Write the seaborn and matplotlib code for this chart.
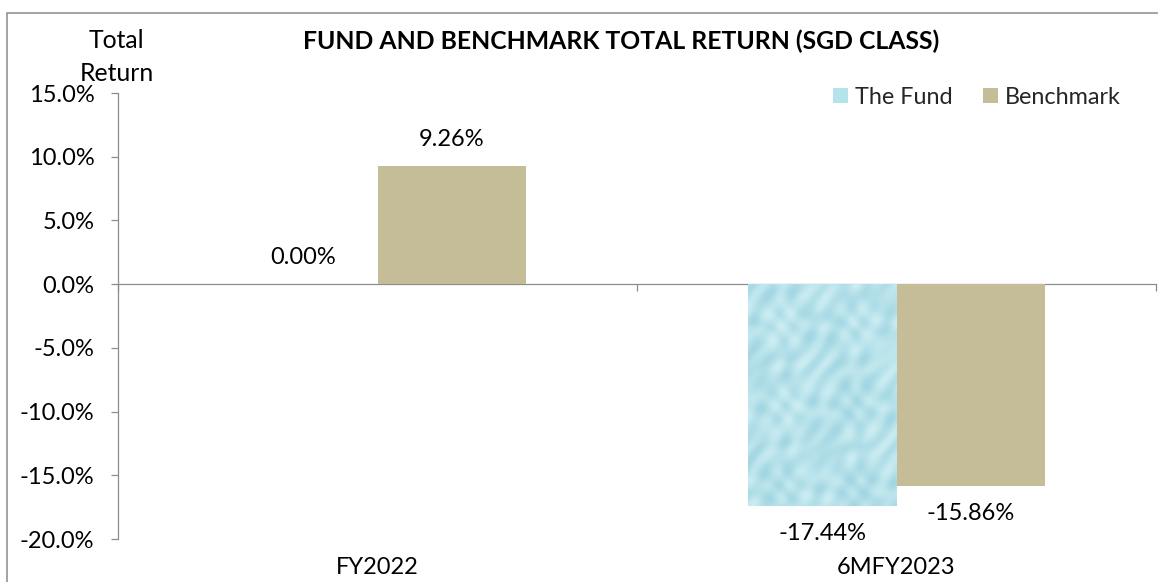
import numpy as np
import pandas as pd
import matplotlib
matplotlib.use("Agg")
import matplotlib.pyplot as plt
from matplotlib.patches import Rectangle
import seaborn as sns

# ---- data ----
periods = ["FY2022", "6MFY2023"]
series_names = ["The Fund", "Benchmark"]
fund_returns = [0.00, -17.44]
benchmark_returns = [9.26, -15.86]
y_ticks = [15, 10, 5, 0, -5, -10, -15, -20]
title = "FUND AND BENCHMARK TOTAL RETURN (SGD CLASS)"
y_title = "Total\nReturn"

df = pd.DataFrame({
    "Period": periods * 2,
    "Series": [series_names[0]] * len(periods) + [series_names[1]] * len(periods),
    "Return": fund_returns + benchmark_returns,
})

sns.set_theme(style="white")
plt.rcParams["font.family"] = ["Lato", "DejaVu Sans"]

W, H = 1158, 582
FS = 17.0
FS_T = 17.8
FS_L = 16.8
GRAY = "#8C8C8C"
fund_color = "#B4E3EC"
bench_color = "#C4BD97"

fig = plt.figure(figsize=(W / 100, H / 100), dpi=100)
ax = fig.add_axes([118 / W, 1 - 539 / H, 1038 / W, 446 / H])

sns.barplot(data=df, x="Period", y="Return", hue="Series", order=periods,
            hue_order=series_names,
            palette={series_names[0]: fund_color, series_names[1]: bench_color},
            width=0.574, saturation=1, errorbar=None, linewidth=0, ax=ax, legend=True)

ax.set_xlim(-0.5, 1.5)
ax.set_ylim(-20, 15)

# water-like texture on the fund bars
for bar in ax.containers[0]:
    h = bar.get_height()
    if h == 0:
        continue
    x0, x1 = bar.get_x(), bar.get_x() + bar.get_width()
    y0, y1 = sorted([bar.get_y(), bar.get_y() + h])
    ny, nx = 300, 120
    yy, xx = np.mgrid[0:1:ny * 1j, 0:1:nx * 1j]
    t = (np.sin(xx * 23 + np.sin(yy * 17) * 2.2) * np.cos(yy * 31 + np.sin(xx * 13) * 1.7)
         + 0.5 * np.sin((xx + yy) * 41))
    t = (t - t.min()) / (t.max() - t.min())
    light = np.array([0.80, 0.93, 0.95])
    dark = np.array([0.56, 0.80, 0.86])
    arr = light[None, None, :] * (1 - t[..., None] * 0.7) + dark[None, None, :] * (t[..., None] * 0.7)
    im = ax.imshow(arr, extent=(x0, x1, y0, y1), aspect="auto", origin="upper",
                   interpolation="bilinear", zorder=bar.get_zorder() + 0.1)
    im.set_clip_path(bar)

ax.set_xlim(-0.5, 1.5)
ax.set_ylim(-20, 15)

# axes styling
for s in ["top", "right", "bottom"]:
    ax.spines[s].set_visible(False)
ax.spines["left"].set_color(GRAY)
ax.spines["left"].set_linewidth(0.9)

ax.set_yticks(y_ticks)
ax.set_yticklabels([f"{v:.1f}%" for v in y_ticks])
ax.tick_params(axis="y", left=True, direction="out", length=5, width=0.9,
               color=GRAY, pad=12, labelsize=FS, labelcolor="black")
ax.set_xticks(range(len(periods)))
ax.set_xticklabels(periods)
ax.tick_params(axis="x", bottom=True, length=0, pad=13, labelsize=FS, labelcolor="black")
ax.set_xlabel("")
ax.set_ylabel("")

# category axis drawn at zero
sec = ax.secondary_xaxis(20 / 35)
sec.set_alignment("bottom")
sec.set_xticks([-0.5, 0.5, 1.5])
sec.set_xticklabels([])
sec.tick_params(axis="x", direction="out", length=5, width=0.9, color=GRAY)
for s in sec.spines.values():
    s.set_color(GRAY)
    s.set_linewidth(0.9)

# data labels
off = 27 * 0.72
for cont, vals in zip(ax.containers, [fund_returns, benchmark_returns]):
    for bar, v in zip(cont, vals):
        xc = bar.get_x() + bar.get_width() / 2
        end = bar.get_y() + bar.get_height()
        ax.annotate(f"{v:.2f}%", (xc, end), xytext=(0, off if v >= 0 else -off),
                    textcoords="offset points", ha="center", va="center",
                    fontsize=FS, color="black")

# legend
handles, labels = ax.get_legend_handles_labels()
if ax.get_legend() is not None:
    ax.get_legend().remove()
em = FS_L * 100 / 72
fig.legend(handles, labels, loc="center left", bbox_to_anchor=(833 / W, 1 - 97 / H),
           ncol=2, frameon=False, fontsize=FS_L, handlelength=15 / em, handleheight=15 / em,
           handletextpad=7 / em, columnspacing=30 / em, borderpad=0, borderaxespad=0)

# titles
fig.text(621 / W, 1 - 41 / H, title, ha="center", va="center", fontsize=FS_T,
         fontweight="bold", color="black")
fig.text(116.5 / W, 1 - 57 / H, y_title, ha="center", va="center", fontsize=FS_T,
         linespacing=1.5, color="black")

# outer chart border
fig.add_artist(Rectangle((7 / W, -0.2), 1.5, (1 - 13 / H) + 0.2, transform=fig.transFigure,
                         fill=False, edgecolor=GRAY, linewidth=1.1))

fig.savefig("out.png", dpi=100)
